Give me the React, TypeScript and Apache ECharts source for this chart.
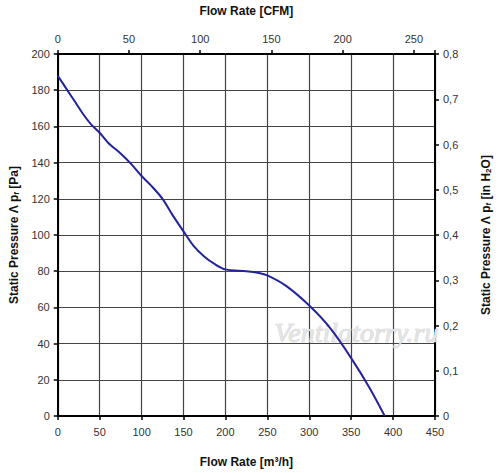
import React, { useEffect, useRef } from "react";
import * as echarts from "echarts";

const flowM3h = [0, 10, 20, 30, 40, 50, 60, 75, 88, 100, 112, 125, 137, 150, 162, 175, 187, 200, 225, 240, 250, 272, 300, 325, 350, 372, 390];
const pressurePa = [188, 181, 174, 167, 161, 156.5, 151, 145, 139, 132.6, 127, 120, 111, 102, 94, 88, 84, 81, 80, 79, 77.7, 72, 61, 48.5, 32, 15.5, 0];

const font = "Arial, 'Liberation Sans', sans-serif";
const labelStyle = { color: "#333", fontSize: 11, fontFamily: font };
const nameRich = {
  a: { fontSize: 12, fontWeight: "bold" as const, color: "#111", fontFamily: font },
  s: { fontSize: 8, fontWeight: "bold" as const, color: "#111", fontFamily: font, verticalAlign: "bottom" as const, padding: [5, 0, 0, 0] },
};

export default function App() {
  const ref = useRef<HTMLDivElement>(null);
  useEffect(() => {
    document.body.style.margin = "0";
    if (!ref.current) return;
    const chart = echarts.init(ref.current, null, { renderer: "svg" });
    const axisLine = () => ({ show: true, onZero: false, lineStyle: { color: "#000", width: 2 } });
    const axisTick = () => ({ show: true, length: 4, inside: false, lineStyle: { color: "#000", width: 1.5 } });
    const grid = () => ({ show: true, lineStyle: { color: "#444", width: 1.2, type: "solid" as const } });
    chart.setOption({
      animation: false,
      backgroundColor: "#fff",
      grid: { left: 52, right: 60, top: 54, bottom: 55, containLabel: false },
      xAxis: [
        {
          type: "value",
          position: "bottom",
          min: 0,
          max: 450,
          interval: 50,
          name: "{a|Flow Rate [m³/h]}",
          nameLocation: "middle",
          nameGap: 40,
          nameTextStyle: { rich: nameRich },
          axisLine: axisLine(),
          axisTick: axisTick(),
          minorTick: { show: false },
          axisLabel: { ...labelStyle, margin: 10 },
          splitLine: grid(),
        },
        {
          type: "value",
          position: "top",
          min: 0,
          max: 450 / 1.699,
          interval: 50,
          name: "{a|Flow Rate [CFM]}",
          nameLocation: "middle",
          nameGap: 37,
          nameTextStyle: { rich: nameRich },
          axisLine: axisLine(),
          axisTick: axisTick(),
          minorTick: { show: false },
          axisLabel: {
            ...labelStyle,
            margin: 10,
            formatter: (v: number) => (Math.abs(v % 50) < 1e-6 ? String(v) : ""),
          },
          splitLine: { show: false },
        },
      ],
      yAxis: [
        {
          type: "value",
          position: "left",
          min: 0,
          max: 200,
          interval: 20,
          name: "{a|Static Pressure Λ p}{s|f}{a| [Pa]}",
          nameLocation: "middle",
          nameGap: 36,
          nameRotate: 90,
          nameTextStyle: { rich: nameRich },
          axisLine: axisLine(),
          axisTick: axisTick(),
          minorTick: { show: false },
          axisLabel: { ...labelStyle, margin: 8 },
          splitLine: grid(),
        },
        {
          type: "value",
          position: "right",
          min: 0,
          max: 0.8,
          interval: 0.1,
          name: "{a|Static Pressure Λ p}{s|f}{a| [in H}{s|2}{a|O]}",
          nameLocation: "middle",
          nameGap: 44,
          nameRotate: 90,
          nameTextStyle: { rich: nameRich },
          axisLine: axisLine(),
          axisTick: axisTick(),
          minorTick: { show: false },
          axisLabel: {
            ...labelStyle,
            margin: 8,
            formatter: (v: number) => (v === 0 ? "0" : (Math.round(v * 10) / 10).toFixed(1).replace(".", ",")),
          },
          splitLine: { show: false },
        },
      ],
      graphic: [
        {
          type: "text",
          left: 274,
          top: 318,
          z: 1,
          style: {
            text: "Ventilatorry.ru",
            font: "italic 28px 'Liberation Serif', 'Times New Roman', serif",
            fill: "#e4e4e4",
            stroke: "#cccccc",
            lineWidth: 0.7,
          },
        },
      ],
      series: [
        {
          type: "line",
          xAxisIndex: 0,
          yAxisIndex: 0,
          data: flowM3h.map((x, i) => [x, pressurePa[i]]),
          smooth: 0.3,
          showSymbol: false,
          lineStyle: { color: "#23239a", width: 2 },
          z: 5,
        },
      ],
    });
    return () => chart.dispose();
  }, []);
  return <div ref={ref} style={{ width: 500, height: 473 }} />;
}
